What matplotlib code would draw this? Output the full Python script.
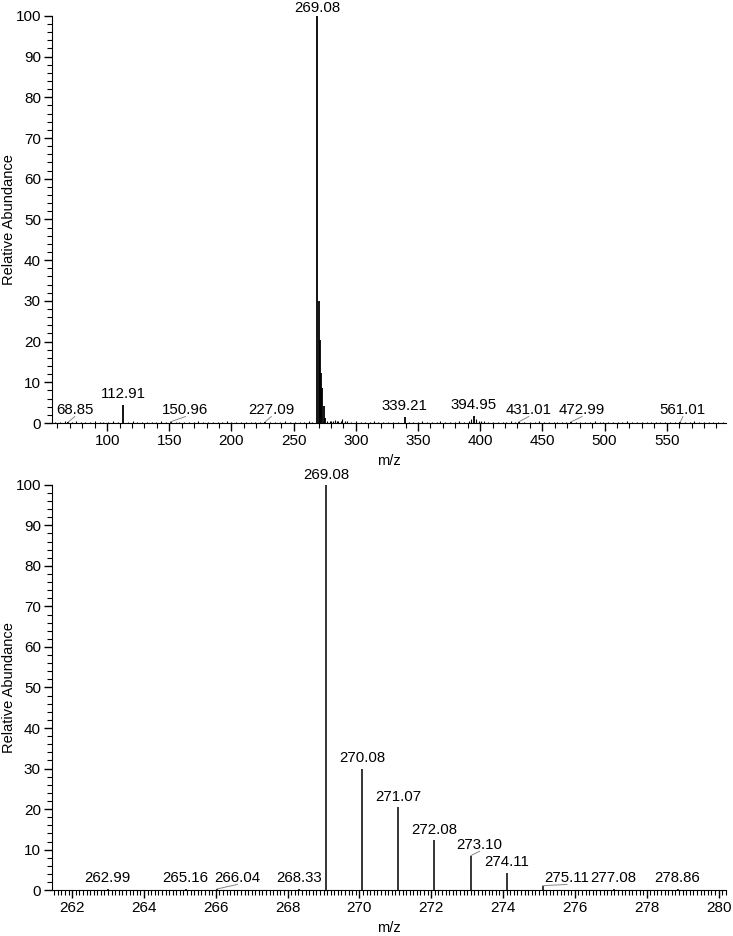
import matplotlib.pyplot as plt
from matplotlib.ticker import MultipleLocator

plt.rcParams['font.family'] = ['Liberation Sans', 'DejaVu Sans']

# full scan: labelled peaks (m/z, relative abundance)
full_mz = [68.85, 112.91, 150.96, 227.09, 269.08, 270.08, 271.07, 272.08, 273.10, 274.11,
           275.11, 339.21, 394.95, 431.01, 472.99, 561.01]
full_ab = [0.3, 4.5, 0.3, 0.3, 100, 30, 20.5, 12.3, 8.5, 4.3,
           1.2, 1.5, 1.8, 0.3, 0.3, 0.3]
# small unlabelled peaks (estimated)
small_mz = [58, 62, 66, 72, 75, 79, 82, 86, 90, 94, 97, 101, 105, 109, 117, 121, 124, 128, 132,
            136, 139, 143, 147, 155, 158, 162, 166, 170, 173, 177, 181, 185, 189, 192, 196, 200,
            204, 208, 212, 216, 219, 223, 231, 235, 239, 243, 247, 251, 255, 258, 262, 265,
            277, 279, 280, 282, 283, 285, 286, 288, 289, 291, 293, 296, 300, 304, 307, 311, 315,
            318, 322, 326, 330, 334, 343, 346, 350, 353, 357, 361, 365, 368, 372, 376, 380, 383,
            387, 391, 393, 397, 399, 401, 403, 406, 410, 414, 418, 421, 425, 428, 435, 440, 444,
            447, 451, 455, 459, 462, 466, 469, 477, 480, 484, 488, 492, 496, 499, 503, 507, 511,
            514, 518, 522, 526, 530, 534, 537, 541, 545, 549, 553, 557, 565, 569, 572, 576, 580,
            584, 587, 591, 595]
small_ab = [0.3, 0.2, 0.4, 0.3, 0.4, 0.2, 0.3, 0.2, 0.5, 0.2, 0.3, 0.2, 0.4, 0.2, 0.2, 0.4, 0.2,
            0.3, 0.2, 0.3, 0.2, 0.4, 0.2, 0.2, 0.3, 0.2, 0.3, 0.2, 0.4, 0.2, 0.3, 0.2, 0.3, 0.2,
            0.4, 0.2, 0.3, 0.2, 0.3, 0.2, 0.3, 0.2, 0.2, 0.3, 0.2, 0.4, 0.2, 0.3, 0.2, 0.3, 0.4,
            0.2, 0.6, 0.4, 0.5, 0.4, 0.8, 0.4, 0.6, 0.5, 0.9, 0.4, 0.5, 0.3, 0.4, 0.2, 0.3, 0.2,
            0.4, 0.2, 0.3, 0.2, 0.3, 0.2, 0.3, 0.2, 0.2, 0.4, 0.2, 0.3, 0.2, 0.4, 0.2, 0.3, 0.2,
            0.4, 0.3, 0.6, 1.0, 0.9, 0.6, 0.5, 0.4, 0.3, 0.3, 0.2, 0.3, 0.2, 0.4, 0.2, 0.3, 0.2,
            0.2, 0.4, 0.2, 0.3, 0.2, 0.3, 0.2, 0.2, 0.3, 0.2, 0.3, 0.2, 0.4, 0.2, 0.3, 0.3, 0.2,
            0.3, 0.2, 0.4, 0.2, 0.3, 0.2, 0.3, 0.2, 0.3, 0.2, 0.3, 0.2, 0.2, 0.3, 0.2, 0.4, 0.2,
            0.3, 0.2, 0.3, 0.2, 0.3]
# label positions (x, y) for the full scan
full_lab = {68.85: (74, 1.4), 112.91: (112.91, 5.4), 150.96: (163, 1.4), 227.09: (232, 1.4),
            269.08: (269.08, 100.3), 339.21: (339.21, 2.4), 394.95: (394.95, 2.7),
            431.01: (439, 1.4), 472.99: (482, 1.4), 561.01: (563, 1.4)}

# zoomed region
zoom_mz = [262.99, 265.16, 266.04, 268.33, 269.08, 270.08, 271.07, 272.08, 273.10, 274.11,
           275.11, 277.08, 278.86]
zoom_ab = [0.3, 0.3, 0.3, 0.3, 100, 30, 20.5, 12.3, 8.5, 4.3, 1.1, 0.3, 0.3]
zoom_lab = {262.99: (262.99, 1.2), 265.16: (265.16, 1.2), 266.04: (266.6, 1.2),
            268.33: (268.33, 1.2), 269.08: (269.08, 100.6), 270.08: (270.08, 30.8),
            271.07: (271.07, 21.3), 272.08: (272.08, 13.1), 273.10: (273.35, 9.4),
            274.11: (274.11, 5.1), 275.11: (275.78, 1.2), 277.08: (277.08, 1.2),
            278.86: (278.86, 1.2)}


def style(ax, xmin, xmax, major, minor):
    ax.set_xlim(xmin, xmax)
    ax.set_ylim(0, 100)
    for s in ['top', 'right']:
        ax.spines[s].set_visible(False)
    ax.xaxis.set_major_locator(MultipleLocator(major))
    ax.xaxis.set_minor_locator(MultipleLocator(minor))
    ax.yaxis.set_major_locator(MultipleLocator(10))
    ax.yaxis.set_minor_locator(MultipleLocator(2))
    ax.tick_params(which='major', length=6, width=1, labelsize=11, pad=2)
    ax.tick_params(which='minor', length=3.5, width=0.8)
    ax.set_ylabel('Relative Abundance', fontsize=10.5)
    ax.yaxis.set_label_coords(-0.053, 0.5)
    ax.set_xlabel('m/z', fontsize=10.5, labelpad=4)


def labels(ax, mz, ab, lab):
    for m, a in zip(mz, ab):
        if m not in lab:
            continue
        x, y = lab[m]
        ax.text(x, y, '%.2f' % m, ha='center', va='bottom', fontsize=10.8, clip_on=False)
        if abs(x - m) > 0.01 * (ax.get_xlim()[1] - ax.get_xlim()[0]) * 0.2:
            ax.plot([m, x], [a, y + 0.2], color='#888888', lw=0.7, clip_on=False)


fig = plt.figure(figsize=(7.33, 9.36), dpi=100)

ax1 = fig.add_axes([0.071, 0.548, 0.92, 0.435])
ax1.vlines(small_mz, 0, small_ab, color='black', lw=0.8)
ax1.vlines(full_mz, 0, full_ab, color='black', lw=1.3)
style(ax1, 55.7, 598, 50, 10)
ax1.set_xticks([100, 150, 200, 250, 300, 350, 400, 450, 500, 550])
labels(ax1, full_mz, full_ab, full_lab)

ax2 = fig.add_axes([0.071, 0.049, 0.92, 0.433])
ax2.vlines(zoom_mz, 0, zoom_ab, color='black', lw=1.1)
style(ax2, 261.44, 280.22, 2, 0.1)
labels(ax2, zoom_mz, zoom_ab, zoom_lab)

fig.savefig('out.png', dpi=100)
